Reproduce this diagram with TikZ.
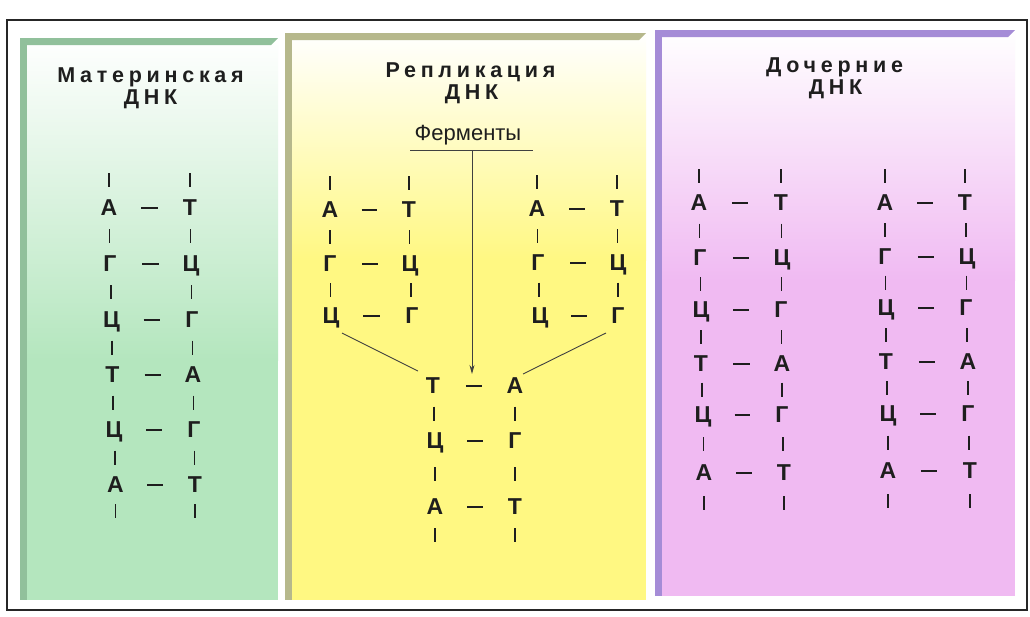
\documentclass[tikz,border=0pt]{standalone}
\usepackage{fontspec}
\setmainfont{Liberation Sans}
\newfontfamily\titlefont[LetterSpace=22]{Liberation Sans}
\usetikzlibrary{calc,arrows.meta}
\definecolor{gfill}{RGB}{180,230,190}
\definecolor{gborder}{RGB}{145,192,155}
\definecolor{yfill}{RGB}{255,248,130}
\definecolor{yborder}{RGB}{182,184,140}
\definecolor{pfill}{RGB}{240,186,242}
\definecolor{pborder}{RGB}{165,140,215}
\definecolor{ink}{RGB}{30,30,30}
\newcommand{\dnapanel}[7]{%
  \fill[#5] (#1,#7) rectangle (#3,#4);
  \shade[top color=white, bottom color=#5] (#1,#2) rectangle (#3,#7);
  \fill[#6] (#1,#2) rectangle (#1+7,#4);
  \fill[#6] (#1,#2) -- (#3,#2) -- (#3-7,#2+7) -- (#1,#2+7) -- cycle;
}
\tikzset{
  base/.style={font=\bfseries\fontsize{23}{23}\selectfont, text=ink, inner sep=0pt, text height=15.8pt, text depth=0pt},
  vbar/.style={draw=ink, line width=1.8pt},
  hbond/.style={draw=ink, line width=1.8pt},
  ttl/.style={font=\titlefont\bfseries\fontsize{21.5}{21.5}\selectfont, anchor=base, text=ink, inner sep=0pt, xshift=2.5pt},
  thinline/.style={draw=ink!85, line width=0.9pt},
}
\begin{document}
\begin{tikzpicture}[x=1pt,y=-1pt]
\useasboundingbox (0,0) rectangle (1030,616);
\fill[white] (0,0) rectangle (1030,616);
% panels
\dnapanel{20}{38}{278}{600}{gfill}{gborder}{360}
\dnapanel{285}{33}{646}{600}{yfill}{yborder}{260}
\dnapanel{655}{30}{1015}{596}{pfill}{pborder}{280}
% frame
\draw[line width=1.4pt, draw=black!85] (7,20) rectangle (1027,610);

% titles
\node[ttl] (gt1) at (148,82) {Материнская};
\node[ttl] (gt2) at (148,104) {ДНК};
\node[ttl] (yt1) at (468,77) {Репликация};
\node[ttl] (yt2) at (469,99) {ДНК};
\node[ttl] (pt1) at (832,72) {Дочерние};
\node[ttl] (pt2) at (833,94) {ДНК};

% ---------------- green: parent DNA
\foreach \i/\y/\xl/\xr/\L/\R in {0/208/109/190/А/Т,1/264/110/191/Г/Ц,2/320/111.5/192/Ц/Г,3/375/112.5/193/Т/А,4/430/114/194/Ц/Г,5/485/115.5/195/А/Т}{
  \node[base] (gL\i) at (\xl,\y) {\L};
  \node[base] (gR\i) at (\xr,\y) {\R};
  \draw[hbond] ($(gL\i)!0.4!(gR\i)$) -- ($(gL\i)!0.6!(gR\i)$);
}
\foreach \i/\j in {0/1,1/2,2/3,3/4,4/5}{
  \draw[vbar] ($(gL\i)!0.5!(gL\j)+(0,-7)$) -- ($(gL\i)!0.5!(gL\j)+(0,7)$);
  \draw[vbar] ($(gR\i)!0.5!(gR\j)+(0,-7)$) -- ($(gR\i)!0.5!(gR\j)+(0,7)$);
}
\foreach \n in {gL0,gR0}{\draw[vbar] ($(\n)+(0,-35)$) -- ($(\n)+(0,-21)$);}
\foreach \n in {gL5,gR5}{\draw[vbar] ($(\n)+(0,19)$) -- ($(\n)+(0,33)$);}

% ---------------- yellow: replication
\node[font=\fontsize{22}{22}\selectfont, text=ink, anchor=base, inner sep=0pt] (ferm) at (468,140) {Ферменты};
\coordinate (fl) at (410,150);
\coordinate (fr) at (533,150);
\coordinate (fmid) at (472,150);
\coordinate (ftip) at (472,374);
\draw[thinline] (fl) -- (fr);
\draw[thinline,-{Stealth[length=9pt,width=5pt]}] (fmid) -- (ftip);

\foreach \i/\y/\xl/\xr/\L/\R in {0/210/330/409/А/Т,1/264/330/410/Г/Ц,2/316/331/412/Ц/Г}{
  \node[base] (yaL\i) at (\xl,\y) {\L};
  \node[base] (yaR\i) at (\xr,\y) {\R};
  \draw[hbond] ($(yaL\i)!0.4!(yaR\i)$) -- ($(yaL\i)!0.6!(yaR\i)$);
}
\foreach \i/\y/\xl/\xr/\L/\R in {0/209/537/617/А/Т,1/263/538/618/Г/Ц,2/316/540/618/Ц/Г}{
  \node[base] (ycL\i) at (\xl,\y) {\L};
  \node[base] (ycR\i) at (\xr,\y) {\R};
  \draw[hbond] ($(ycL\i)!0.4!(ycR\i)$) -- ($(ycL\i)!0.6!(ycR\i)$);
}
\foreach \i/\y/\xl/\xr/\L/\R in {0/386/433/515/Т/А,1/441/435/515/Ц/Г,2/507/435/515/А/Т}{
  \node[base] (ybL\i) at (\xl,\y) {\L};
  \node[base] (ybR\i) at (\xr,\y) {\R};
  \draw[hbond] ($(ybL\i)!0.4!(ybR\i)$) -- ($(ybL\i)!0.6!(ybR\i)$);
}
\foreach \s in {ya,yc,yb}{
  \foreach \i/\j in {0/1,1/2}{
    \draw[vbar] ($(\s L\i)!0.5!(\s L\j)+(0,-7)$) -- ($(\s L\i)!0.5!(\s L\j)+(0,7)$);
    \draw[vbar] ($(\s R\i)!0.5!(\s R\j)+(0,-7)$) -- ($(\s R\i)!0.5!(\s R\j)+(0,7)$);
  }
}
\foreach \n in {yaL0,yaR0,ycL0,ycR0}{\draw[vbar] ($(\n)+(0,-34)$) -- ($(\n)+(0,-20)$);}
\foreach \n in {ybL2,ybR2}{\draw[vbar] ($(\n)+(0,21)$) -- ($(\n)+(0,35)$);}
\draw[thinline] ($(yaL2)+(11,17)$) -- ($(ybL0)+(-15,-15)$);
\draw[thinline] ($(ycR2)+(-12,17)$) -- ($(ybR0)+(8,-12)$);

% ---------------- pink: daughter DNA
\foreach \i/\y/\xl/\xr/\L/\R in {0/203/699/781/А/Т,1/258/700/782/Г/Ц,2/310/701/781/Ц/Г,3/364/701/782/Т/А,4/415/703/782/Ц/Г,5/473/704/784/А/Т}{
  \node[base] (pL\i) at (\xl,\y) {\L};
  \node[base] (pR\i) at (\xr,\y) {\R};
  \draw[hbond] ($(pL\i)!0.4!(pR\i)$) -- ($(pL\i)!0.6!(pR\i)$);
}
\foreach \i/\y/\xl/\xr/\L/\R in {0/203/885/965/А/Т,1/257/885/967/Г/Ц,2/308/886/966/Ц/Г,3/362/886/968/Т/А,4/414/888/968/Ц/Г,5/471/888/970/А/Т}{
  \node[base] (qL\i) at (\xl,\y) {\L};
  \node[base] (qR\i) at (\xr,\y) {\R};
  \draw[hbond] ($(qL\i)!0.4!(qR\i)$) -- ($(qL\i)!0.6!(qR\i)$);
}
\foreach \s in {p,q}{
  \foreach \i/\j in {0/1,1/2,2/3,3/4,4/5}{
    \draw[vbar] ($(\s L\i)!0.5!(\s L\j)+(0,-7)$) -- ($(\s L\i)!0.5!(\s L\j)+(0,7)$);
    \draw[vbar] ($(\s R\i)!0.5!(\s R\j)+(0,-7)$) -- ($(\s R\i)!0.5!(\s R\j)+(0,7)$);
  }
}
\foreach \n in {pL0,pR0,qL0,qR0}{\draw[vbar] ($(\n)+(0,-34)$) -- ($(\n)+(0,-20)$);}
\foreach \n in {pL5,pR5,qL5,qR5}{\draw[vbar] ($(\n)+(0,23)$) -- ($(\n)+(0,37)$);}
\end{tikzpicture}
\end{document}
